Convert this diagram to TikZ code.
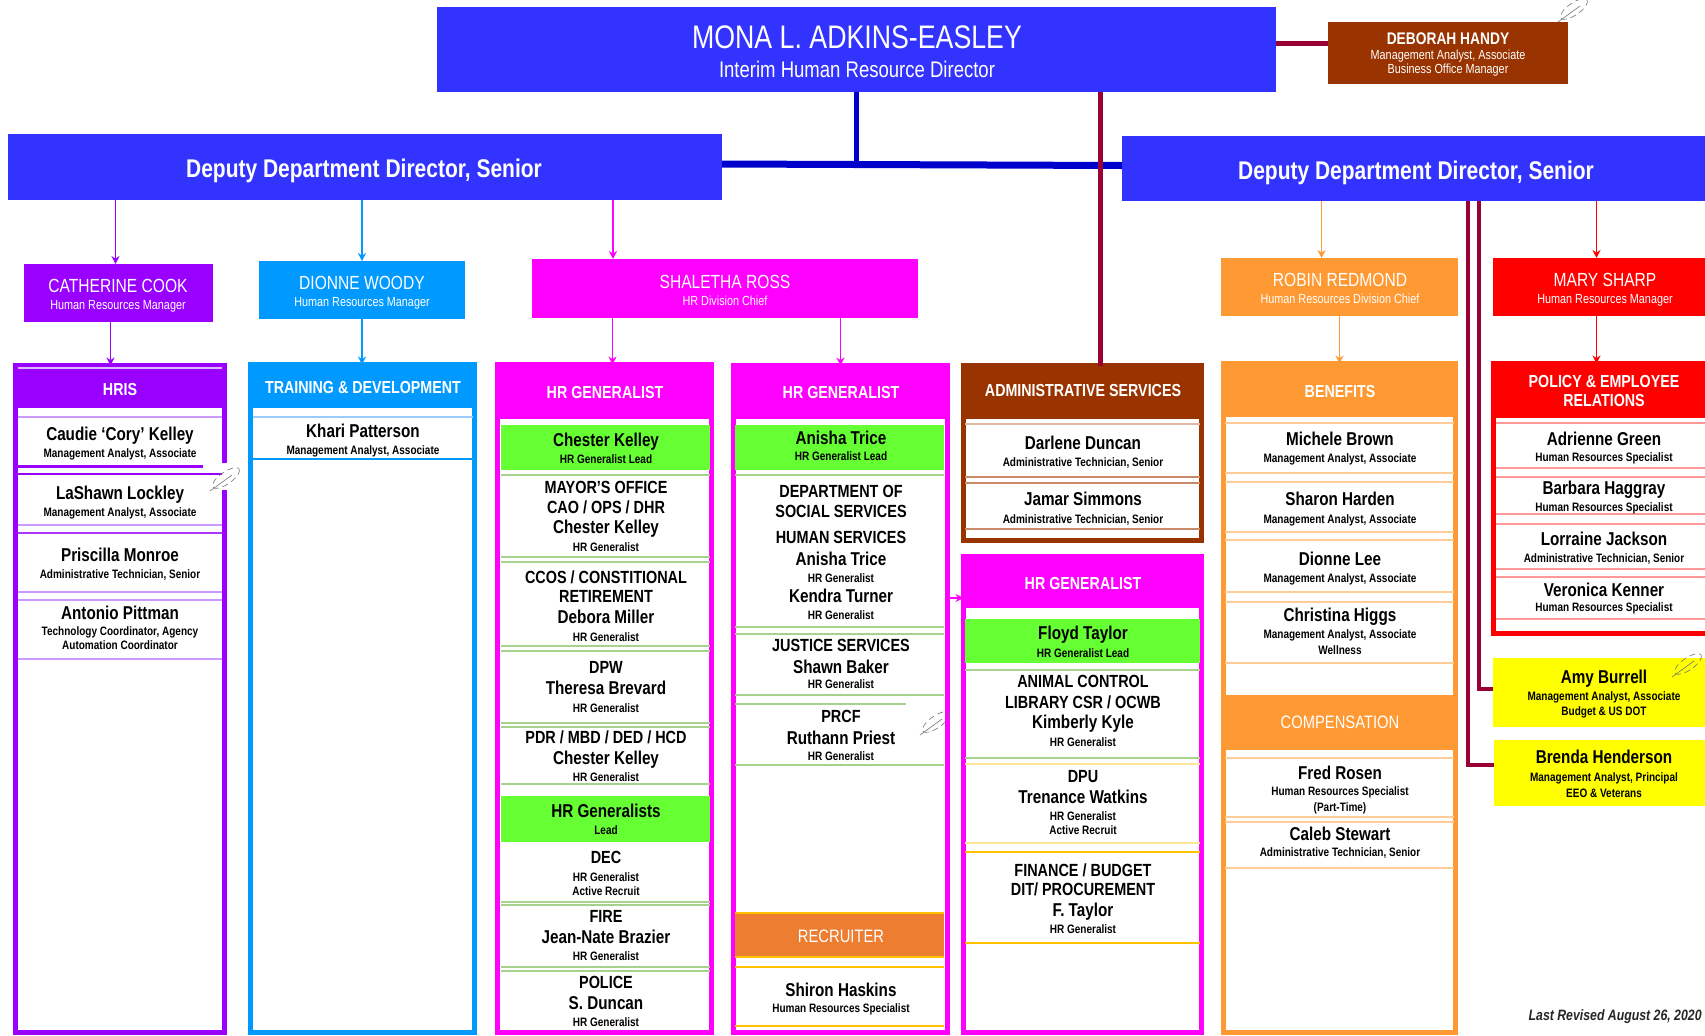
\documentclass[tikz,border=0pt]{standalone}
\usepackage{fontspec}
\setmainfont{Liberation Sans}[FakeStretch=0.82]
\usetikzlibrary{arrows.meta,calc}

\definecolor{cblue}{HTML}{3333FF}
\definecolor{clink}{HTML}{0000CC}
\definecolor{cwine}{HTML}{990033}
\definecolor{cbrown}{HTML}{993300}
\definecolor{cpurple}{HTML}{9900FF}
\definecolor{csky}{HTML}{0099FF}
\definecolor{cmag}{HTML}{FF00FF}
\definecolor{corange}{HTML}{FF9933}
\definecolor{cred}{HTML}{FF0000}
\definecolor{cgreen}{HTML}{66FF33}
\definecolor{crecr}{HTML}{ED7D31}
\definecolor{cyellow}{HTML}{FFFF00}
\definecolor{lpurple}{HTML}{CC99FF}
\definecolor{lsky}{HTML}{99CCFF}
\definecolor{lgreen}{HTML}{A9D18E}
\definecolor{lgold}{HTML}{FFC000}
\definecolor{lpale}{HTML}{FFE699}
\definecolor{lbrown}{HTML}{C9896B}
\definecolor{lorange}{HTML}{FFCC99}
\definecolor{lred}{HTML}{FF9999}

% one drawing unit
\def\pxu{0.5pt}

% filled box from its corners: style, name, colour, x1, y1, x2, y2
\newcommand{\boxnode}[7]{%
  \node[#1, fill=#3, minimum width={(#6-#4)*\pxu}, minimum height={(#7-#5)*\pxu},
        anchor=north west] (#2) at (#4,#5) {};}
% column frame from its outer corners: name, colour, x1, y1, x2, y2
\newcommand{\frameat}[6]{%
  \node[colframe, draw=#2, minimum width={(#5-#3-5)*\pxu}, minimum height={(#6-#4-5)*\pxu},
        anchor=north west] (#1) at (#3+2.5,#4+2.5) {};}
% one line of text
\newcounter{ln}
\newcommand{\tline}[4]{\stepcounter{ln}\node[#1] (ln\arabic{ln}) at (#2,#3) {#4};}
% separator rule inside a column: colour, x1, x2, y, width
\newcommand{\rl}[5]{\draw[line width={#5*\pxu}, #1] (#2,#4) -- (#3,#4);}
% small comment mark
\newcommand{\feather}[2]{%
  \draw[black!55, densely dashed, line width=0.3pt, rotate around={35:(#1,#2)}] (#1,#2) ellipse (16 and 6);
  \draw[black!55, line width=0.3pt] (#1-16,#2+13) -- (#1+6,#2-3);}

\tikzset{
  x=0.5pt, y=-0.5pt,
  plain/.style={inner sep=0pt, outer sep=0pt, draw=none},
  colframe/.style={inner sep=0pt, outer sep=0pt, line width=2.5pt, fill=white},
  tbase/.style={anchor=base, inner sep=0pt, outer sep=0pt},
  ttl/.style={tbase, text=white, font=\fontsize{16.3}{18}\selectfont, yshift=-5.8pt},
  ttls/.style={tbase, text=white, font=\fontsize{11.3}{13}\selectfont, yshift=-4pt},
  dep/.style={tbase, text=white, font=\fontsize{12.8}{14}\selectfont\bfseries, yshift=-4.6pt},
  mgr/.style={tbase, text=white, font=\fontsize{9.5}{11}\selectfont, yshift=-3.4pt},
  mgrb/.style={tbase, text=white, font=\fontsize{8.4}{10}\selectfont\bfseries, yshift=-3pt},
  mgrs/.style={tbase, text=white, font=\fontsize{6.6}{8}\selectfont, yshift=-2.4pt},
  hd/.style={tbase, text=white, font=\fontsize{8.7}{10}\selectfont\bfseries, yshift=-3.1pt},
  hdl/.style={tbase, text=white, font=\fontsize{9}{10}\selectfont, yshift=-3.2pt},
  nm/.style={tbase, font=\fontsize{9.3}{11}\selectfont\bfseries, yshift=-3.3pt},
  dp/.style={tbase, font=\fontsize{8.8}{10}\selectfont\bfseries, yshift=-3.2pt},
  sb/.style={tbase, font=\fontsize{6.1}{8}\selectfont\bfseries, yshift=-2.2pt},
  arrowln/.style={line width=0.9pt, -{Stealth[length=4pt,width=4pt]}},
  wine/.style={draw=cwine, line width=2.5pt},
}

\begin{document}
\begin{tikzpicture}
\useasboundingbox[fill=white] (0,0) rectangle (1705,1035);
\clip (0,0) rectangle (1705,1035);

% ---------- top level ----------
\boxnode{plain}{mona}{cblue}{437}{7}{1276}{92}
\boxnode{plain}{deb}{cbrown}{1328}{22}{1568}{84}
\boxnode{plain}{depL}{cblue}{8}{134}{722}{200}
\boxnode{plain}{depR}{cblue}{1122}{136}{1760}{201}

\draw[line width=2.5pt, clink] (mona.south) -- (mona.south |- depL.east);
\draw[line width=3.5pt, clink] ([yshift=1.5pt]depL.east) -- ([yshift=1.5pt]depR.west);
\draw[wine] ([yshift=5pt]deb.west) -- ([yshift=5pt]deb.west -| mona.east);

\tline{ttl}{857}{37}{MONA L. ADKINS-EASLEY}
\tline{ttls}{857}{69}{Interim Human Resource Director}
\tline{mgrb}{1448}{38}{DEBORAH HANDY}
\tline{mgrs}{1448}{55}{Management Analyst, Associate}
\tline{mgrs}{1448}{69}{Business Office Manager}
\tline{dep}{364}{168}{Deputy Department Director, Senior}
\tline{dep}{1416}{170}{Deputy Department Director, Senior}

% ---------- managers ----------
\boxnode{plain}{cook}{cpurple}{24}{264}{213}{322}
\boxnode{plain}{woody}{csky}{259}{261}{465}{319}
\boxnode{plain}{ross}{cmag}{532}{259}{918}{318}
\boxnode{plain}{redmond}{corange}{1221}{258}{1458}{316}
\boxnode{plain}{sharp}{cred}{1493}{258}{1720}{316}

\tline{mgr}{118}{286}{CATHERINE COOK}
\tline{mgrs}{118}{305}{Human Resources Manager}
\tline{mgr}{362}{283}{DIONNE WOODY}
\tline{mgrs}{362}{302}{Human Resources Manager}
\tline{mgr}{725}{282}{SHALETHA ROSS}
\tline{mgrs}{725}{301}{HR Division Chief}
\tline{mgr}{1340}{280}{ROBIN REDMOND}
\tline{mgrs}{1340}{299}{Human Resources Division Chief}
\tline{mgr}{1605}{280}{MARY SHARP}
\tline{mgrs}{1605}{299}{Human Resources Manager}

\draw[arrowln, cpurple] ([xshift=-1.5pt]cook.north |- depL.south) -- ([xshift=-1.5pt]cook.north);
\draw[arrowln, csky] (woody.north |- depL.south) -- (woody.north);
\draw[arrowln, cmag] ([xshift=-56pt]ross.north |- depL.south) -- ([xshift=-56pt]ross.north);
\draw[arrowln, corange] ([xshift=-9pt]redmond.north |- depR.south) -- ([xshift=-9pt]redmond.north);
\draw[arrowln, cred] ([xshift=-5pt]sharp.north |- depR.south) -- ([xshift=-5pt]sharp.north);

% ---------- columns ----------
\frameat{hris}{cpurple}{13}{363}{227}{1035}
\frameat{trn}{csky}{248}{362}{477}{1035}
\frameat{hrg1}{cmag}{495}{362}{714}{1035}
\frameat{hrg2}{cmag}{731}{363}{950}{1035}
\frameat{admin}{cbrown}{961}{363}{1204}{543}
\frameat{hrg3}{cmag}{961}{554}{1204}{1035}
\frameat{ben}{corange}{1221}{361}{1458}{1035}
\frameat{pol}{cred}{1491}{361}{1718}{636}

\boxnode{plain}{hrisH}{cpurple}{13}{363}{227}{408}
\boxnode{plain}{trnH}{csky}{248}{362}{477}{408}
\boxnode{plain}{hrg1H}{cmag}{495}{362}{714}{419}
\boxnode{plain}{hrg2H}{cmag}{731}{363}{950}{419}
\boxnode{plain}{adminH}{cbrown}{961}{363}{1204}{419}
\boxnode{plain}{hrg3H}{cmag}{961}{554}{1204}{608}
\boxnode{plain}{benH}{corange}{1221}{361}{1458}{417}
\boxnode{plain}{polH}{cred}{1491}{361}{1718}{418}

\boxnode{plain}{lead1}{cgreen}{501}{425}{710}{470}
\boxnode{plain}{lead2}{cgreen}{735}{425}{944}{470}
\boxnode{plain}{lead3}{cgreen}{501}{796}{710}{842}
\boxnode{plain}{lead4}{cgreen}{965}{619}{1200}{663}
\boxnode{plain}{recr}{crecr}{735}{913}{944}{957}
\boxnode{plain}{comp}{corange}{1225}{695}{1454}{750}
\boxnode{plain}{amy}{cyellow}{1493}{658}{1720}{727}
\boxnode{plain}{brenda}{cyellow}{1494}{740}{1720}{806}

% manager to column links
\draw[arrowln, cpurple] ([xshift=-4pt]cook.south) -- ([xshift=-4pt]cook.south |- hris.north);
\draw[arrowln, csky] (woody.south) -- (woody.south |- trn.north);
\draw[arrowln, cmag] ([xshift=4pt]hrg1.north |- ross.south) -- ([xshift=4pt]hrg1.north);
\draw[arrowln, cmag] (hrg2.north |- ross.south) -- (hrg2.north);
\draw[arrowln, corange] (redmond.south) -- (redmond.south |- ben.north);
\draw[arrowln, cred] ([xshift=-5pt]sharp.south) -- ([xshift=-5pt]sharp.south |- pol.north);
\coordinate (g2y) at (0,598);
\draw[arrowln, cmag] (hrg2.east |- g2y) -- (hrg3.west |- g2y);

% director and deputy direct lines
\draw[wine] ([xshift=9pt]admin.north |- mona.south) -- ([xshift=9pt]admin.north);
\coordinate (wA) at (1479,201);
\coordinate (wB) at (1468,201);
\draw[wine, line width=2pt] (wA) |- ([yshift=2pt]amy.west);
\draw[wine, line width=2pt] (wB) |- ([yshift=4pt]brenda.west);

% ---------- separators ----------
% HRIS
\rl{lpurple!70}{18}{222}{368}{1.5}
\rl{lpurple}{18}{222}{417}{2}
\rl{cpurple}{18}{203}{466}{3}
\rl{cpurple}{18}{222}{474}{2}
\rl{lpurple}{18}{222}{525}{1.5}
\rl{cpurple!80}{18}{222}{533}{1.5}
\rl{lpurple}{18}{222}{592}{1.5}
\rl{lpurple}{18}{222}{600}{1.5}
\rl{lpurple}{18}{222}{659}{1.5}
% training
\rl{lsky}{253}{473}{417}{2}
\rl{csky}{253}{473}{459}{1.5}
% HR generalist 1
\foreach \yy in {475,557,562,646,651,723,727,784,902,905,967,971}
  {\rl{lgreen}{501}{710}{\yy}{1.5}}
% HR generalist 2
\foreach \yy in {475,627,634,695,765}
  {\rl{lgreen}{735}{944}{\yy}{1.5}}
\rl{lgreen}{735}{906}{704}{2}
\rl{lgold}{735}{944}{913}{2}
\rl{lgold}{735}{944}{957}{2}
\rl{lgold}{735}{944}{967}{1.5}
\rl{lgold}{735}{944}{1026}{1.5}
% administrative services
\rl{lbrown!60}{965}{1200}{424}{1.5}
\rl{lbrown}{965}{1200}{477}{1.5}
\rl{lbrown}{965}{1200}{483}{1.5}
\rl{lbrown}{965}{1200}{529}{1.5}
% HR generalist 3
\rl{lgreen}{965}{1200}{670}{1.5}
\rl{lgreen}{965}{1200}{758}{1.5}
\rl{lpale}{965}{1200}{764}{1.5}
\rl{lpale}{965}{1200}{843}{1.5}
\rl{lgold}{965}{1200}{852}{1.5}
\rl{lgold}{965}{1200}{943}{1.5}
% benefits
\foreach \yy in {423,473,482,532,540,592,602,663,758,817,822,868}
  {\rl{lorange}{1225}{1454}{\yy}{1.5}}
% policy
\foreach \yy in {423,468,477,514,524,569,577,619}
  {\rl{lred}{1496}{1705}{\yy}{1.5}}

% ---------- headers ----------
\tline{hd}{120}{389}{HRIS}
\tline{hd}{363}{387}{TRAINING \& DEVELOPMENT}
\tline{hd}{605}{392}{HR GENERALIST}
\tline{hd}{841}{392}{HR GENERALIST}
\tline{hd}{1083}{390}{ADMINISTRATIVE SERVICES}
\tline{hd}{1083}{583}{HR GENERALIST}
\tline{hd}{1340}{391}{BENEFITS}
\tline{hd}{1604}{381}{POLICY \& EMPLOYEE}
\tline{hd}{1604}{400}{RELATIONS}
\tline{hdl}{841}{936}{RECRUITER}
\tline{hdl}{1340}{722}{COMPENSATION}

% ---------- HRIS ----------
\tline{nm}{120}{434}{Caudie ‘Cory’ Kelley}
\tline{sb}{120}{453}{Management Analyst, Associate}
\tline{nm}{120}{493}{LaShawn Lockley}
\tline{sb}{120}{512}{Management Analyst, Associate}
\tline{nm}{120}{555}{Priscilla Monroe}
\tline{sb}{120}{574}{Administrative Technician, Senior}
\tline{nm}{120}{613}{Antonio Pittman}
\tline{sb}{120}{631}{Technology Coordinator, Agency}
\tline{sb}{120}{645}{Automation Coordinator}

% ---------- training ----------
\tline{nm}{363}{431}{Khari Patterson}
\tline{sb}{363}{450}{Management Analyst, Associate}

% ---------- HR generalist 1 ----------
\tline{nm}{606}{440}{Chester Kelley}
\tline{sb}{606}{459}{HR Generalist Lead}
\tline{dp}{606}{487}{MAYOR’S OFFICE}
\tline{dp}{606}{507}{CAO / OPS / DHR}
\tline{nm}{606}{527}{Chester Kelley}
\tline{sb}{606}{547}{HR Generalist}
\tline{dp}{606}{577}{CCOS / CONSTITIONAL}
\tline{dp}{606}{596}{RETIREMENT}
\tline{nm}{606}{617}{Debora Miller}
\tline{sb}{606}{637}{HR Generalist}
\tline{dp}{606}{667}{DPW}
\tline{nm}{606}{688}{Theresa Brevard}
\tline{sb}{606}{708}{HR Generalist}
\tline{dp}{606}{737}{PDR / MBD / DED / HCD}
\tline{nm}{606}{758}{Chester Kelley}
\tline{sb}{606}{777}{HR Generalist}
\tline{nm}{606}{811}{HR Generalists}
\tline{sb}{606}{830}{Lead}
\tline{dp}{606}{857}{DEC}
\tline{sb}{606}{877}{HR Generalist}
\tline{sb}{606}{891}{Active Recruit}
\tline{dp}{606}{916}{FIRE}
\tline{nm}{606}{937}{Jean-Nate Brazier}
\tline{sb}{606}{956}{HR Generalist}
\tline{dp}{606}{982}{POLICE}
\tline{nm}{606}{1003}{S. Duncan}
\tline{sb}{606}{1022}{HR Generalist}

% ---------- HR generalist 2 ----------
\tline{nm}{841}{438}{Anisha Trice}
\tline{sb}{841}{456}{HR Generalist Lead}
\tline{dp}{841}{491}{DEPARTMENT OF}
\tline{dp}{841}{511}{SOCIAL SERVICES}
\tline{dp}{841}{537}{HUMAN SERVICES}
\tline{nm}{841}{559}{Anisha Trice}
\tline{sb}{841}{578}{HR Generalist}
\tline{nm}{841}{596}{Kendra Turner}
\tline{sb}{841}{615}{HR Generalist}
\tline{dp}{841}{645}{JUSTICE SERVICES}
\tline{nm}{841}{667}{Shawn Baker}
\tline{sb}{841}{684}{HR Generalist}
\tline{dp}{841}{716}{PRCF}
\tline{nm}{841}{738}{Ruthann Priest}
\tline{sb}{841}{756}{HR Generalist}
\tline{nm}{841}{990}{Shiron Haskins}
\tline{sb}{841}{1008}{Human Resources Specialist}

% ---------- administrative services ----------
\tline{nm}{1083}{443}{Darlene Duncan}
\tline{sb}{1083}{462}{Administrative Technician, Senior}
\tline{nm}{1083}{499}{Jamar Simmons}
\tline{sb}{1083}{519}{Administrative Technician, Senior}

% ---------- HR generalist 3 ----------
\tline{nm}{1083}{633}{Floyd Taylor}
\tline{sb}{1083}{653}{HR Generalist Lead}
\tline{dp}{1083}{681}{ANIMAL CONTROL}
\tline{dp}{1083}{702}{LIBRARY CSR / OCWB}
\tline{nm}{1083}{722}{Kimberly Kyle}
\tline{sb}{1083}{742}{HR Generalist}
\tline{dp}{1083}{776}{DPU}
\tline{nm}{1083}{797}{Trenance Watkins}
\tline{sb}{1083}{816}{HR Generalist}
\tline{sb}{1083}{830}{Active Recruit}
\tline{dp}{1083}{870}{FINANCE / BUDGET}
\tline{dp}{1083}{889}{DIT/ PROCUREMENT}
\tline{nm}{1083}{910}{F. Taylor}
\tline{sb}{1083}{929}{HR Generalist}

% ---------- benefits / compensation ----------
\tline{nm}{1340}{439}{Michele Brown}
\tline{sb}{1340}{458}{Management Analyst, Associate}
\tline{nm}{1340}{499}{Sharon Harden}
\tline{sb}{1340}{519}{Management Analyst, Associate}
\tline{nm}{1340}{559}{Dionne Lee}
\tline{sb}{1340}{578}{Management Analyst, Associate}
\tline{nm}{1340}{615}{Christina Higgs}
\tline{sb}{1340}{634}{Management Analyst, Associate}
\tline{sb}{1340}{650}{Wellness}
\tline{nm}{1340}{773}{Fred Rosen}
\tline{sb}{1340}{791}{Human Resources Specialist}
\tline{sb}{1340}{807}{(Part-Time)}
\tline{nm}{1340}{834}{Caleb Stewart}
\tline{sb}{1340}{852}{Administrative Technician, Senior}

% ---------- policy & employee relations ----------
\tline{nm}{1604}{439}{Adrienne Green}
\tline{sb}{1604}{457}{Human Resources Specialist}
\tline{nm}{1604}{488}{Barbara Haggray}
\tline{sb}{1604}{507}{Human Resources Specialist}
\tline{nm}{1604}{539}{Lorraine Jackson}
\tline{sb}{1604}{558}{Administrative Technician, Senior}
\tline{nm}{1604}{590}{Veronica Kenner}
\tline{sb}{1604}{607}{Human Resources Specialist}

% ---------- staff reporting to the deputy ----------
\tline{nm}{1604}{677}{Amy Burrell}
\tline{sb}{1604}{696}{Management Analyst, Associate}
\tline{sb}{1604}{711}{Budget \& US DOT}
\tline{nm}{1604}{757}{Brenda Henderson}
\tline{sb}{1604}{777}{Management Analyst, Principal}
\tline{sb}{1604}{793}{EEO \& Veterans}

% ---------- comment marks ----------
\fill[white] (222,463) rectangle (248,490);
\feather{226}{478}
\feather{1574}{9}
\feather{936}{722}
\feather{1688}{664}

% ---------- revision note ----------
\node[anchor=base east, inner sep=0pt, font=\fontsize{7.5}{9}\selectfont\bfseries\itshape, text=black!85]
  (rev) at (1702,1020) {Last Revised August 26, 2020};
\end{tikzpicture}
\end{document}
